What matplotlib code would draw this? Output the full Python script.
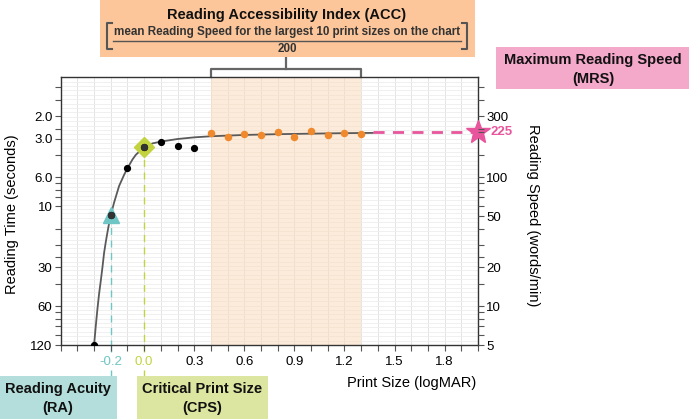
import matplotlib
matplotlib.use("Agg")
import matplotlib.pyplot as plt
import numpy as np
from matplotlib.patches import Rectangle
from matplotlib.transforms import offset_copy

# --- data ---------------------------------------------------------------
print_size = [-0.3, -0.2, -0.1, 0.0, 0.1, 0.2, 0.3,
              0.4, 0.5, 0.6, 0.7, 0.8, 0.9, 1.0, 1.1, 1.2, 1.3]
reading_speed = [5, 51, 118, 172, 190, 175, 168,
                 223, 206, 217, 212, 226, 206, 231, 214, 223, 217]
n_acc = 10  # largest 10 print sizes are highlighted in orange

# fitted curve
curve_ps = [-0.30, -0.29, -0.28, -0.27, -0.26, -0.25, -0.24, -0.23, -0.22, -0.21,
            -0.20, -0.18, -0.15, -0.12, -0.10, -0.07, -0.05, -0.02, 0.00, 0.05,
            0.10, 0.20, 0.30, 0.40, 0.60, 0.80, 1.00, 1.20, 1.37]
curve_rs = [5, 7, 9.5, 12.5, 15.7, 20, 26, 31.5, 37.5, 44,
            51, 64, 86, 105, 118, 138, 150, 163, 172, 184,
            190, 199, 205, 209, 214, 217, 219, 221, 222]

ra_ps, ra_rs = -0.2, 51
cps_ps, cps_rs = 0.0, 172
mrs = 225
acc_lo, acc_hi = 0.4, 1.3

time_ticks = [2.0, 3.0, 6.0, 10, 30, 60, 120]
time_labels = ["2.0", "3.0", "6.0", "10", "30", "60", "120"]
speed_ticks = [300, 225, 100, 50, 20, 10, 5]
speed_labels = ["300", "", "100", "50", "20", "10", "5"]
minor_speeds = [500, 400, 240, 150, 90, 80, 70, 60, 40, 30, 24, 15, 9, 8, 7, 6]
xtick_labels = {-0.2: "-0.2", 0.0: "0.0", 0.3: "0.3", 0.6: "0.6", 0.9: "0.9",
                1.2: "1.2", 1.5: "1.5", 1.8: "1.8"}

# --- colours ---------------------------------------------------------------
TEAL = "#6fc6c4"
LIME = "#c3d33f"
PINK = "#e8559c"
ORANGE = "#f0892c"
GREY = "#5a5a5a"

plt.rcParams["font.family"] = ["Liberation Sans", "DejaVu Sans"]

W, H = 689, 419
fig = plt.figure(figsize=(W / 100, H / 100), dpi=100)


def fx(x):
    return x / W


def fy(y):
    return 1 - y / H


ax = fig.add_axes([fx(60.7), fy(345), fx(478 - 60.7), (345 - 77.3) / H])
ax.set_xlim(-0.5, 2.0)
ax.set_yscale("log")
ax.set_ylim(5, 600)

# grid
for xv in np.arange(-0.5, 2.001, 0.1):
    ax.axvline(xv, color="#e4e4e4", lw=0.7, zorder=0)
for yv in np.logspace(np.log10(5), np.log10(600), 62):
    ax.axhline(yv, color="#eeeeee", lw=0.6, zorder=0)
ax.axvspan(acc_lo, acc_hi, color="#fbd9b6", alpha=0.5, lw=0, zorder=0.5)

# curve + MRS line
ax.plot(curve_ps, curve_rs, color=GREY, lw=1.3, zorder=2)
ax.plot([curve_ps[-1], 2.0], [mrs, mrs], color=PINK, lw=2, dashes=(4, 3), zorder=2)

# RA / CPS dashed drops
ax.plot([ra_ps, ra_ps], [ra_rs, 5], color=TEAL, lw=1, dashes=(5, 4), zorder=1)
ax.plot([cps_ps, cps_ps], [cps_rs, 5], color=LIME, lw=1, dashes=(5, 4), zorder=1)
drop = -(376 - 345) / (345 - 77.3)
tr = ax.get_xaxis_transform()
ax.plot([ra_ps, ra_ps], [0, drop], color=TEAL, lw=1, dashes=(5, 4),
        transform=tr, clip_on=False, zorder=1)
ax.plot([cps_ps, cps_ps], [0, drop], color=LIME, lw=1, dashes=(5, 4),
        transform=tr, clip_on=False, zorder=1)

# markers
ax.plot(ra_ps, ra_rs, marker="^", ms=12, color=TEAL, zorder=3, ls="none")
ax.plot(cps_ps, cps_rs, marker="D", ms=10, color=LIME, zorder=3, ls="none")
ax.plot(print_size[:-n_acc], reading_speed[:-n_acc], "o", ms=4.2,
        color="black", zorder=4)
ax.plot(print_size[-n_acc:], reading_speed[-n_acc:], "o", ms=4.4,
        color=ORANGE, zorder=4)
ax.plot([ra_ps, cps_ps], [ra_rs, cps_rs], "o", ms=4.2, color="#333333", zorder=4)
ax.plot(2.0, mrs, marker="*", ms=18, color=PINK, clip_on=False, zorder=5)

# spines / ticks
for s in ax.spines.values():
    s.set_color("#333333")
    s.set_linewidth(1)

xt = np.round(np.arange(-0.5, 2.001, 0.1), 1)
ax.set_xticks(xt)
ax.set_xticklabels([xtick_labels.get(v, "") for v in xt])
ax.tick_params(axis="x", length=4, width=0.8, color="#555555", labelsize=9.5, pad=4)
for lab, v in zip(ax.get_xticklabels(), xt):
    if v == -0.2:
        lab.set_color(TEAL)
    elif v == 0.0:
        lab.set_color(LIME)
    if v in (-0.2, 0.0):
        lab.set_bbox(dict(facecolor="white", edgecolor="none", pad=1.5))
        lab.set_zorder(6)

ax.set_yticks([600 / t for t in time_ticks])
ax.set_yticklabels(time_labels)
ax.set_yticks(minor_speeds, minor=True)
ax.yaxis.set_minor_formatter(plt.NullFormatter())
ax.tick_params(axis="y", which="both", length=4, width=0.8, color="#555555",
               labelsize=9.5, pad=2)

ax2 = ax.twinx()
ax2.set_yscale("log")
ax2.set_ylim(ax.get_ylim())
ax2.set_yticks(speed_ticks)
ax2.set_yticklabels(speed_labels)
ax2.set_yticks(minor_speeds, minor=True)
ax2.yaxis.set_minor_formatter(plt.NullFormatter())
ax2.tick_params(axis="y", which="both", length=4, width=0.8, color="#555555",
                labelsize=9.5, pad=2)
for s in ax2.spines.values():
    s.set_visible(False)
# MRS value label sits a little further out, beside the star
ax2.text(1.0, mrs, str(mrs), color=PINK, fontweight="bold", fontsize=9.5,
         ha="left", va="center",
         transform=offset_copy(ax2.get_yaxis_transform(), fig=fig, x=13, y=0,
                               units="dots"))

# axis titles
fig.text(fx(12), fy(214), "Reading Time (seconds)", rotation=90,
         ha="center", va="center", fontsize=10.5)
fig.text(fx(533), fy(215), "Reading Speed (words/min)", rotation=270,
         ha="center", va="center", fontsize=10.5)
fig.text(fx(412), fy(383), "Print Size (logMAR)", ha="center", va="center",
         fontsize=10.5)

# ACC bracket above the highlighted sizes
xa = ax.get_xaxis_transform()
yb = 1 + (77.3 - 69.3) / (345 - 77.3)
ys = 1 + (77.3 - 58) / (345 - 77.3)
mid = (acc_lo + acc_hi) / 2
ax.plot([acc_lo, acc_lo, acc_hi, acc_hi], [1, yb, yb, 1], color="#666666",
        lw=1.6, transform=xa, clip_on=False)
ax.plot([mid, mid], [yb, ys], color="#666666", lw=1.6, transform=xa, clip_on=False)


def box(x0, y0, x1, y1, color):
    fig.patches.append(Rectangle((fx(x0), fy(y1)), fx(x1 - x0), (y1 - y0) / H,
                                 transform=fig.transFigure, facecolor=color,
                                 edgecolor="none", zorder=0))


box(100, -2, 475, 57, "#fcc69a")
fig.text(fx(287), fy(15), "Reading Accessibility Index (ACC)", ha="center",
         va="center", fontsize=10.5, fontweight="bold", color="#111111")
fig.text(fx(287), fy(32), "mean Reading Speed for the largest 10 print sizes on the chart",
         ha="center", va="center", fontsize=8.4, fontweight="bold", color="#333333")
fig.text(fx(287), fy(49.5), "200", ha="center", va="center", fontsize=8.4,
         fontweight="bold", color="#333333")
fig.lines.append(plt.Line2D([fx(113), fx(461)], [fy(41), fy(41)],
                            transform=fig.transFigure, color="#555555", lw=1))
for xb, d in ((107, 5), (467, -5)):
    fig.lines.append(plt.Line2D([fx(xb + d), fx(xb), fx(xb), fx(xb + d)],
                                [fy(23), fy(23), fy(49), fy(49)],
                                transform=fig.transFigure, color="#555555", lw=1.5))

box(496, 47, 691, 89, "#f4a8ca")
fig.text(fx(593), fy(60), "Maximum Reading Speed", ha="center", va="center",
         fontsize=10.5, fontweight="bold", color="#111111")
fig.text(fx(593), fy(79), "(MRS)", ha="center", va="center",
         fontsize=10.5, fontweight="bold", color="#111111")

box(-2, 376, 117, 421, "#b3dedb")
fig.text(fx(58), fy(389), "Reading Acuity", ha="center", va="center",
         fontsize=10.5, fontweight="bold", color="#111111")
fig.text(fx(58), fy(408), "(RA)", ha="center", va="center",
         fontsize=10.5, fontweight="bold", color="#111111")

box(137, 376, 268, 421, "#dce6a0")
fig.text(fx(202.5), fy(389), "Critical Print Size", ha="center", va="center",
         fontsize=10.5, fontweight="bold", color="#111111")
fig.text(fx(202.5), fy(408), "(CPS)", ha="center", va="center",
         fontsize=10.5, fontweight="bold", color="#111111")

fig.savefig("out.png", dpi=100)
